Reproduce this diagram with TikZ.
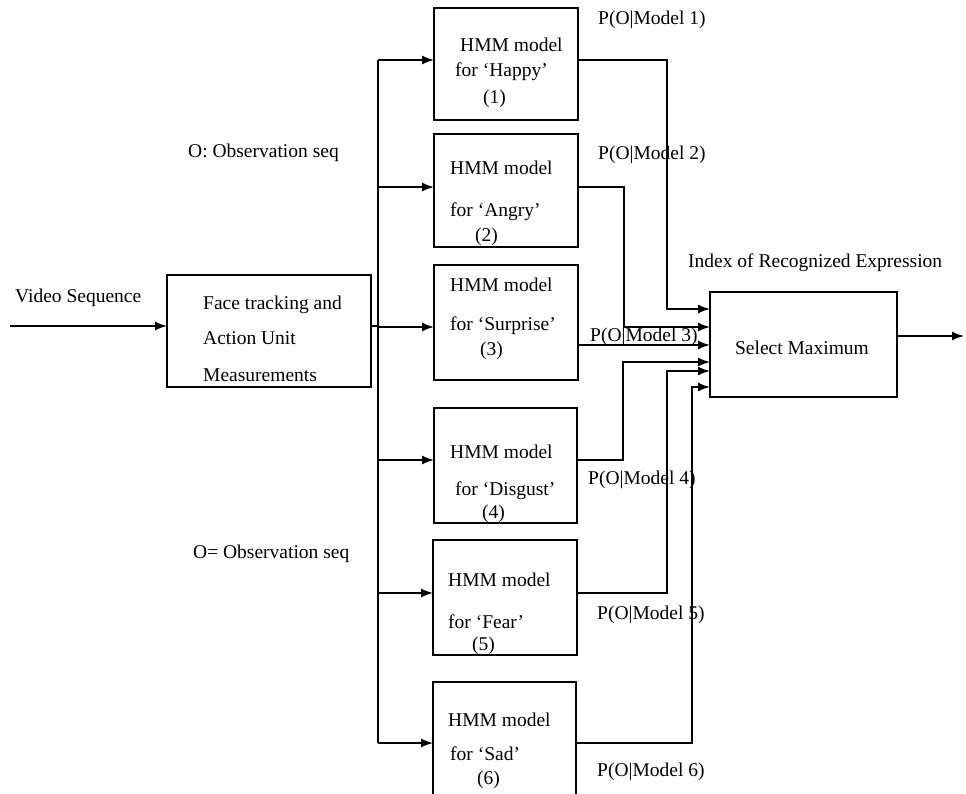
\documentclass[tikz,border=0pt]{standalone}
\usepackage{fontspec}
\setmainfont{Liberation Serif}
\usetikzlibrary{arrows.meta}
\begin{document}
\begin{tikzpicture}[x=1pt,y=-1pt,
  every node/.style={font=\fontsize{19.5}{23}\selectfont},
  box/.style={draw, line width=1.5pt, inner sep=0pt, outer sep=0pt, anchor=north west},
  txt/.style={anchor=west, inner sep=0pt},
  ln/.style={line width=1.5pt},
  arr/.style={line width=1.5pt, -{Latex[length=12pt,width=9pt]}}]
\clip (0,0) rectangle (966,793);
\fill[white] (0,0) rectangle (966,793);
% boxes
\node[box, minimum width=204, minimum height=112] (face) at (167,275) {};
\node[box, minimum width=144, minimum height=112] (h1) at (434,8) {};
\node[box, minimum width=144, minimum height=113] (h2) at (434,134) {};
\node[box, minimum width=144, minimum height=115] (h3) at (434,265) {};
\node[box, minimum width=143, minimum height=115] (h4) at (434,408) {};
\node[box, minimum width=144, minimum height=115] (h5) at (433,540) {};
\node[box, minimum width=143, minimum height=130] (h6) at (433,682) {};
\node[box, minimum width=187, minimum height=105] (sel) at (710,292) {};
% texts
\node[txt] (ft1) at (203,305) {Face tracking and};
\node[txt] (ft2) at (203,338) {Action Unit};
\node[txt] (ft3) at (203,375) {Measurements};
\node[txt] (t1a) at (460,45) {HMM model};
\node[txt] (t1b) at (455,72) {for ‘Happy’};
\node[txt] (t1c) at (483,99) {(1)};
\node[txt] (t2a) at (450,168) {HMM model};
\node[txt] (t2b) at (450,212) {for ‘Angry’};
\node[txt] (t2c) at (475,237) {(2)};
\node[txt] (t3a) at (450,285) {HMM model};
\node[txt] (t3b) at (450,326) {for ‘Surprise’};
\node[txt] (t3c) at (480,351) {(3)};
\node[txt] (t4a) at (450,452) {HMM model};
\node[txt] (t4b) at (455,491) {for ‘Disgust’};
\node[txt] (t4c) at (482,514) {(4)};
\node[txt] (t5a) at (448,580) {HMM model};
\node[txt] (t5b) at (448,622) {for ‘Fear’};
\node[txt] (t5c) at (472,646) {(5)};
\node[txt] (t6a) at (448,720) {HMM model};
\node[txt] (t6b) at (450,754) {for ‘Sad’};
\node[txt] (t6c) at (477,780) {(6)};
\node[anchor=center, inner sep=0pt] (selt) at (802,348) {Select Maximum};
\node[txt] (vid) at (15,298) {Video Sequence};
\node[txt] (obs1) at (188,153) {O: Observation seq};
\node[txt] (obs2) at (193,554) {O= Observation seq};
\node[txt] (idx) at (688,263) {Index of Recognized Expression};
\node[txt] (p1) at (598,20) {P(O|Model 1)};
\node[txt] (p2) at (598,155) {P(O|Model 2)};
\node[txt] (p3) at (590,337) {P(O|Model 3)};
\node[txt] (p4) at (588,480) {P(O|Model 4)};
\node[txt] (p5) at (597,615) {P(O|Model 5)};
\node[txt] (p6) at (597,772) {P(O|Model 6)};
% coordinates
\coordinate (vin) at (10,326);
\coordinate (bus) at (378,326);
\coordinate (b1) at (378,60);
\coordinate (b2) at (378,187);
\coordinate (b3) at (378,327);
\coordinate (b4) at (378,460);
\coordinate (b5) at (378,593);
\coordinate (b6) at (378,743);
\coordinate (c1) at (667,309);
\coordinate (c2) at (624,327);
\coordinate (c3) at (624,345);
\coordinate (c4) at (623,362);
\coordinate (c5) at (667,371);
\coordinate (c6) at (692,387);
\coordinate (out) at (964,336);
% connectors
\draw[arr] (vin) -- (vin -| face.west);
\draw[ln] (face.east |- bus) -- (bus);
\draw[ln] (b1) -- (b6);
\foreach \i in {1,...,6}{
  \draw[arr] (b\i) -- (b\i -| h\i.west);
}
\draw[arr] (h1.east |- b1) -| (c1) -- (c1 -| sel.west);
\draw[arr] (h2.east |- b2) -| (c2) -- (c2 -| sel.west);
\draw[arr] (h3.east |- c3) -- (c3 -| sel.west);
\draw[arr] (h4.east |- b4) -| (c4) -- (c4 -| sel.west);
\draw[arr] (h5.east |- b5) -| (c5) -- (c5 -| sel.west);
\draw[arr] (h6.east |- b6) -| (c6) -- (c6 -| sel.west);
\draw[arr] (sel.east |- out) -- (out);
\end{tikzpicture}
\end{document}
